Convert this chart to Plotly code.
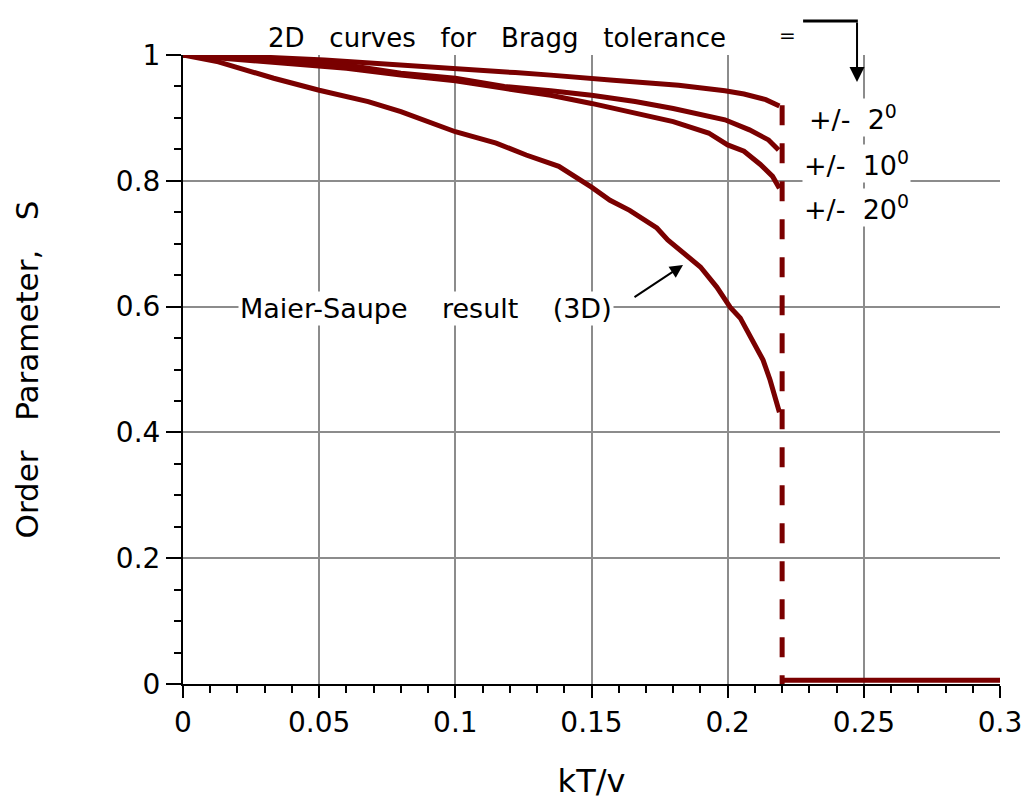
import plotly.graph_objects as go

# ---------------- data ----------------
ms_x = [0.0, 0.013, 0.0333, 0.05, 0.068, 0.080, 0.1, 0.115, 0.126, 0.138, 0.15,
        0.1568, 0.164, 0.1678, 0.174, 0.178, 0.1836, 0.190, 0.196, 0.2009, 0.2046,
        0.209, 0.213, 0.2156, 0.2174, 0.219]
ms_y = [1.0, 0.989, 0.963, 0.944, 0.926, 0.910, 0.878, 0.860, 0.841, 0.823, 0.790,
        0.769, 0.753, 0.742, 0.725, 0.706, 0.685, 0.663, 0.631, 0.599, 0.582,
        0.547, 0.515, 0.483, 0.456, 0.432]

b2_x = [0.0, 0.0275, 0.052, 0.071, 0.0886, 0.106, 0.122, 0.135, 0.150, 0.158,
        0.170, 0.182, 0.199, 0.206, 0.214, 0.219]
b2_y = [1.0, 0.997, 0.992, 0.987, 0.982, 0.977, 0.972, 0.968, 0.964, 0.960,
        0.956, 0.952, 0.943, 0.938, 0.929, 0.919]

b10_x = [0.0, 0.020, 0.042, 0.060, 0.080, 0.1, 0.118, 0.135, 0.15, 0.166,
         0.180, 0.199, 0.208, 0.215, 0.2187]
b10_y = [1.0, 0.996, 0.991, 0.984, 0.971, 0.963, 0.950, 0.943, 0.936, 0.926,
         0.915, 0.897, 0.881, 0.865, 0.849]

b20_x = [0.0, 0.020, 0.042, 0.060, 0.080, 0.1, 0.118, 0.135, 0.15, 0.166,
         0.180, 0.193, 0.2, 0.206, 0.212, 0.2165, 0.219]
b20_y = [1.0, 0.993, 0.984, 0.979, 0.968, 0.959, 0.947, 0.936, 0.923, 0.908,
         0.894, 0.876, 0.857, 0.847, 0.826, 0.807, 0.788]

trans_x = [0.22, 0.22]
trans_y = [0.92, 0.0]
iso_x = [0.2205, 0.3]
iso_y = [0.006, 0.006]

x_ticks = [0, 0.05, 0.1, 0.15, 0.2, 0.25, 0.3]
x_ticktext = ["0", "0.05", "0.1", "0.15", "0.2", "0.25", "0.3"]
y_ticks = [0, 0.2, 0.4, 0.6, 0.8, 1]
y_ticktext = ["0", "0.2", "0.4", "0.6", "0.8", "1"]

# ---------------- styling ----------------
RED = "#7a0000"
FONT = "DejaVu Sans"
NB = "\u00a0"

fig = go.Figure()
for xs, ys in [(ms_x, ms_y), (b2_x, b2_y), (b10_x, b10_y), (b20_x, b20_y)]:
    fig.add_trace(go.Scatter(x=xs, y=ys, mode="lines",
                             line=dict(color=RED, width=5), showlegend=False))
fig.add_trace(go.Scatter(x=trans_x, y=trans_y, mode="lines",
                         line=dict(color=RED, width=5, dash="20px,18px"), showlegend=False))
fig.add_trace(go.Scatter(x=iso_x, y=iso_y, mode="lines",
                         line=dict(color=RED, width=5), showlegend=False))

axis_common = dict(
    showline=True, linecolor="black", linewidth=2,
    showgrid=True, gridcolor="#8c8c8c", gridwidth=2,
    zeroline=False, ticks="outside", tickcolor="black", tickwidth=2,
    tickfont=dict(family=FONT, size=28, color="black"),
    automargin=False,
)

fig.update_xaxes(range=[0, 0.3], tickvals=x_ticks, ticktext=x_ticktext, ticklen=12,
                 minor=dict(dtick=0.01, ticks="outside", ticklen=7, tickcolor="black",
                            tickwidth=2, showgrid=False),
                 title=dict(text="kT/v", font=dict(family=FONT, size=32, color="black"),
                            standoff=34),
                 **axis_common)
fig.update_yaxes(range=[0, 1], tickvals=y_ticks, ticktext=y_ticktext, ticklen=15,
                 minor=dict(dtick=0.05, ticks="outside", ticklen=7, tickcolor="black",
                            tickwidth=2, showgrid=False),
                 title=dict(text=f"Order{NB}{NB} Parameter,{NB}{NB} S",
                            font=dict(family=FONT, size=31, color="black"), standoff=68),
                 **axis_common)

ann_font = dict(family=FONT, size=27, color="black")
annotations = [
    dict(x=0.0892, y=0.597, xref="x", yref="y",
         text=f"Maier-Saupe{NB}{NB}{NB} result{NB}{NB}{NB} (3D)",
         showarrow=False, bgcolor="white", font=ann_font, borderpad=1),
    dict(x=0.1836, y=0.666, xref="x", yref="y", text="", showarrow=True,
         ax=-50, ay=33, arrowhead=2, arrowsize=1.3, arrowwidth=2, arrowcolor="black"),
    dict(x=0.2291, y=0.900, xref="x", yref="y", xanchor="left",
         text=f"+/-{NB} 2<sup>0</sup>", showarrow=False, bgcolor="white", font=ann_font),
    dict(x=0.2273, y=0.828, xref="x", yref="y", xanchor="left",
         text=f"+/-{NB} 10<sup>0</sup>", showarrow=False, bgcolor="white", font=ann_font),
    dict(x=0.2273, y=0.757, xref="x", yref="y", xanchor="left",
         text=f"+/-{NB} 20<sup>0</sup>", showarrow=False, bgcolor="white", font=ann_font),
    dict(x=0.0303, y=1.054, xref="x", yref="paper", xanchor="left",
         text=f"2D{NB}{NB} curves{NB}{NB} for{NB}{NB} Bragg{NB}{NB} tolerance",
         showarrow=False, font=dict(family=FONT, size=26, color="black")),
    dict(x=0.2218, y=1.054, xref="x", yref="paper", text="=",
         showarrow=False, font=dict(family=FONT, size=20, color="black")),
    dict(x=0.2475, y=0.957, xref="x", yref="y", text="", showarrow=True,
         ax=0, ay=-61, arrowhead=2, arrowsize=1.5, arrowwidth=2, arrowcolor="black"),
]
fig.update_layout(annotations=annotations)
fig.add_shape(type="line", xref="x", yref="paper", x0=0.2277, x1=0.2478,
              y0=1.054, y1=1.054, line=dict(color="black", width=3))

fig.update_layout(
    width=1029, height=800,
    margin=dict(l=183, r=29, t=55, b=116),
    paper_bgcolor="white", plot_bgcolor="white",
    font=dict(family=FONT, color="black"),
    showlegend=False,
)

fig.write_html("out.html")
